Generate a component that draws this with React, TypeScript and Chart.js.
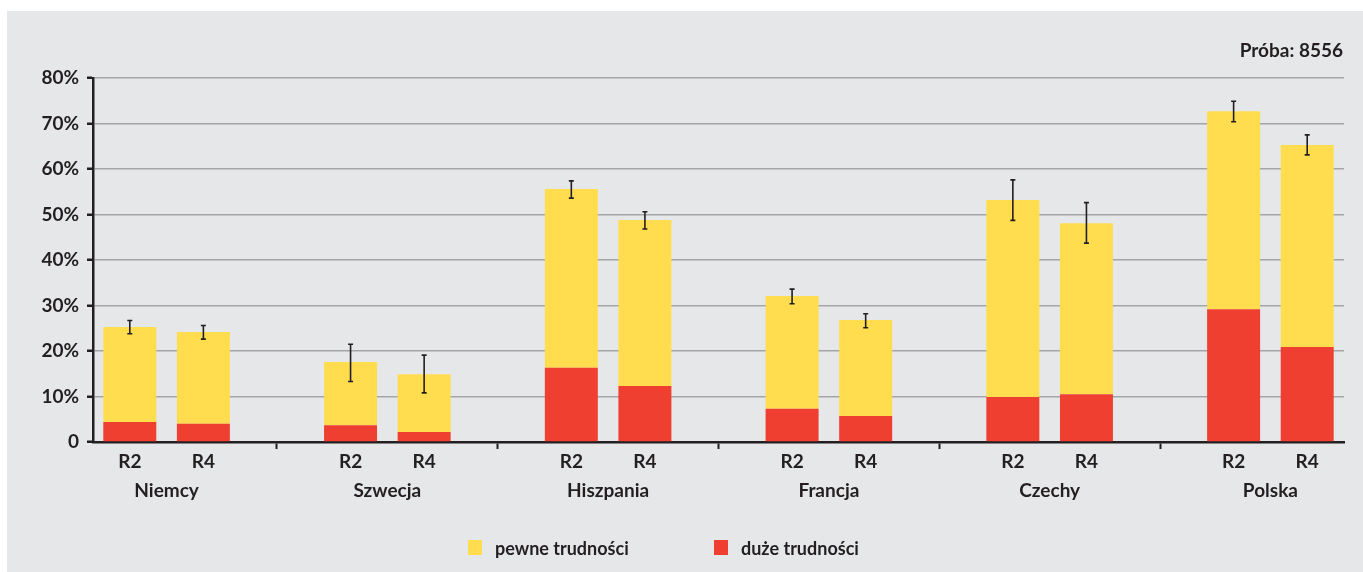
import React, { useEffect, useRef } from "react";
import { Chart, registerables } from "chart.js";

Chart.register(...registerables);

const countries = ["Niemcy", "Szwecja", "Hiszpania", "Francja", "Czechy", "Polska"];
const rounds = ["R2", "R4"];
// total share with difficulties (top of stacked bar), per country R2, R4
const totalValues = [25.3, 24.2, 17.6, 14.9, 55.6, 48.8, 32.1, 26.8, 53.2, 48.1, 72.7, 65.3];
// "duże trudności"
const bigValues = [4.4, 4.0, 3.7, 2.2, 16.3, 12.3, 7.3, 5.7, 9.9, 10.5, 29.2, 20.9];
// error bar ends
const errHigh = [26.7, 25.6, 21.5, 19.1, 57.4, 50.6, 33.6, 28.2, 57.6, 52.6, 74.9, 67.5];
const errLow = [23.8, 22.6, 13.3, 10.8, 53.6, 46.8, 30.4, 25.1, 48.7, 43.7, 70.4, 63.1];
const yTicks = [0, 10, 20, 30, 40, 50, 60, 70, 80];
const sampleLabel = "Próba: 8556";
const legendLabels = ["pewne trudności", "duże trudności"];

const YELLOW = "#FFDD4F";
const RED = "#EE3F30";
const INK = "#231f20";
const FONT = "Lato, 'Open Sans', sans-serif";

// Build slot layout: R2, R4, gap, R2, R4, gap, ... (no trailing gap)
const slotLabels: string[] = [];
const slotIndex: (number | null)[] = [];
countries.forEach((_, ci) => {
  rounds.forEach((r, ri) => {
    slotLabels.push(r);
    slotIndex.push(ci * 2 + ri);
  });
  if (ci < countries.length - 1) {
    slotLabels.push("");
    slotIndex.push(null);
  }
});

const redData = slotIndex.map((i) => (i === null ? null : bigValues[i]));
const yellowData = slotIndex.map((i) => (i === null ? null : +(totalValues[i] - bigValues[i]).toFixed(2)));

export default function App() {
  const ref = useRef<HTMLCanvasElement | null>(null);
  useEffect(() => {
    if (!ref.current) return;
    const overlay = {
      id: "overlay",
      afterDatasetsDraw(chart: any) {
        const ctx = chart.ctx;
        const x = chart.scales.x;
        const y = chart.scales.y;
        // error bars
        ctx.save();
        ctx.strokeStyle = INK;
        ctx.lineWidth = 1.6;
        slotIndex.forEach((di, si) => {
          if (di === null) return;
          const cx = x.getPixelForValue(si);
          const yh = y.getPixelForValue(errHigh[di]);
          const yl = y.getPixelForValue(errLow[di]);
          ctx.beginPath();
          ctx.moveTo(cx, yh);
          ctx.lineTo(cx, yl);
          ctx.moveTo(cx - 2.5, yh);
          ctx.lineTo(cx + 2.5, yh);
          ctx.moveTo(cx - 2.5, yl);
          ctx.lineTo(cx + 2.5, yl);
          ctx.stroke();
        });
        ctx.restore();
      },
      afterDraw(chart: any) {
        const ctx = chart.ctx;
        const x = chart.scales.x;
        ctx.save();
        ctx.fillStyle = INK;
        ctx.font = `bold 19px ${FONT}`;
        ctx.textAlign = "center";
        ctx.textBaseline = "alphabetic";
        countries.forEach((c, ci) => {
          const a = x.getPixelForValue(ci * 3);
          const b = x.getPixelForValue(ci * 3 + 1);
          ctx.fillText(c, (a + b) / 2, 486);
        });
        // sample label
        ctx.textAlign = "right";
        ctx.fillText(sampleLabel, 1336, 46);
        // legend
        ctx.font = `bold 18px ${FONT}`;
        ctx.textAlign = "left";
        ctx.fillStyle = YELLOW;
        ctx.fillRect(461, 529, 14, 15);
        ctx.fillStyle = RED;
        ctx.fillRect(707, 529, 14, 15);
        ctx.fillStyle = INK;
        ctx.fillText(legendLabels[0], 488, 544);
        ctx.fillText(legendLabels[1], 734, 544);
        ctx.restore();
      },
    };
    const chart = new Chart(ref.current, {
      type: "bar",
      data: {
        labels: slotLabels,
        datasets: [
          { label: legendLabels[1], data: redData, backgroundColor: RED, stack: "s" },
          { label: legendLabels[0], data: yellowData, backgroundColor: YELLOW, stack: "s" },
        ],
      },
      options: {
        animation: false,
        responsive: false,
        maintainAspectRatio: false,
        layout: { padding: { left: 0, right: 19, top: 67, bottom: 0 } },
        datasets: { bar: { barPercentage: 0.72, categoryPercentage: 1 } },
        plugins: { legend: { display: false }, tooltip: { enabled: false }, title: { display: false } },
        scales: {
          x: {
            stacked: true,
            offset: true,
            grid: {
              display: true,
              offset: false,
              drawOnChartArea: false,
              drawTicks: true,
              tickLength: 7,
              tickWidth: 2,
              tickColor: (c: any) => (slotLabels[c.index] === "" ? INK : "rgba(0,0,0,0)"),
            },
            border: { display: true, color: INK, width: 2.5 },
            ticks: {
              autoSkip: false,
              maxRotation: 0,
              color: INK,
              font: { family: FONT, size: 19, weight: "bold" },
              padding: 1,
            },
            afterFit: (s: any) => {
              s.height = 130;
            },
          },
          y: {
            stacked: true,
            min: 0,
            max: 80,
            afterBuildTicks: (s: any) => {
              s.ticks = yTicks.map((v) => ({ value: v }));
            },
            grid: {
              color: (c: any) => (c.tick && c.tick.value === 0 ? "rgba(0,0,0,0)" : "#a3a5a8"),
              lineWidth: 1.5,
              tickColor: INK,
              tickLength: 6,
              tickWidth: 2.5,
            },
            border: { display: true, color: INK, width: 2.5 },
            ticks: {
              color: INK,
              font: { family: FONT, size: 19, weight: "bold" },
              padding: 8,
              callback: (v: any) => (v === 0 ? "0" : `${v}%`),
            },
            afterFit: (s: any) => {
              s.width = 86;
            },
          },
        },
      },
      plugins: [overlay],
    } as any);
    return () => chart.destroy();
  }, []);
  return (
    <div
      style={{
        position: "fixed",
        left: 7,
        top: 11,
        width: 1356,
        height: 561,
        background: "#e6e7e8",
      }}
    >
      <canvas ref={ref} width={1356} height={561} style={{ display: "block", width: 1356, height: 561 }} />
    </div>
  );
}
